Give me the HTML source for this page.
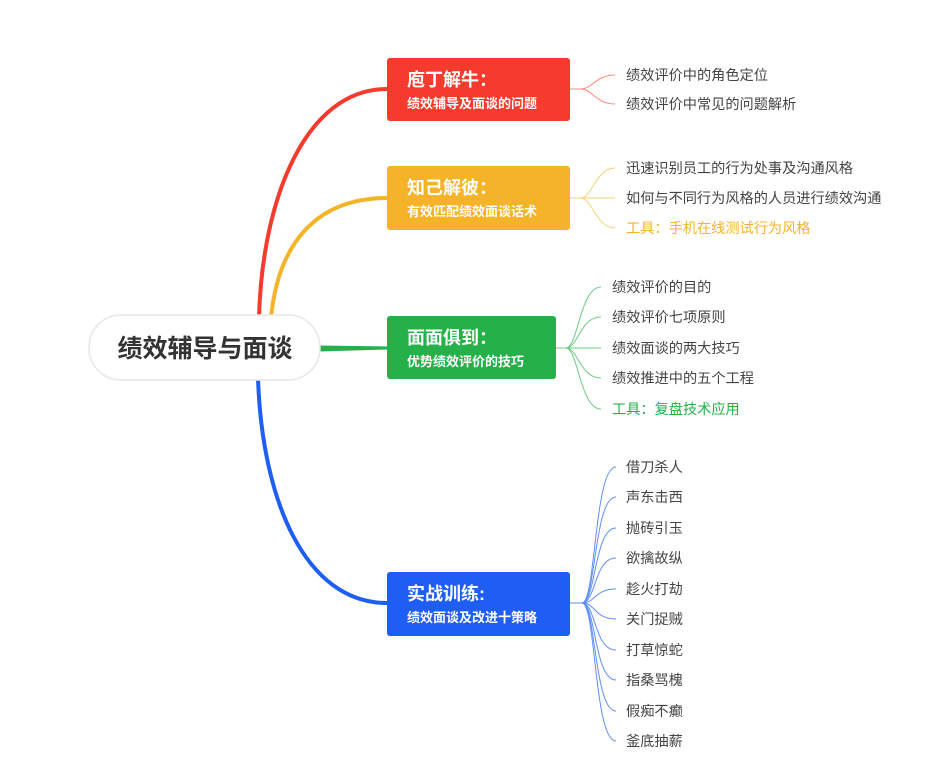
<!DOCTYPE html>
<html><head><meta charset="utf-8"><style>
html,body{margin:0;padding:0;background:#fff;}
svg{display:block;}
text{font-family:"Liberation Sans","Noto Sans CJK SC",sans-serif;}
.c{font-size:14.2px;fill:#444;}
.t{font-size:18px;font-weight:bold;fill:#fff;}
.s{font-size:13px;font-weight:bold;fill:#fff;}
</style></head><body>
<svg width="929" height="774" viewBox="0 0 929 774" xmlns="http://www.w3.org/2000/svg">
<g fill="none" stroke-linecap="round">
<path d="M259 318 C262 200 305 89 387 89" stroke="#f53b2d" stroke-width="4"/>
<path d="M271 318 C278 245 315 198 387 198" stroke="#f5b32a" stroke-width="4"/>
<path d="M320 346 L387 347 L387 349 L320 351 Z" fill="#25b04a" stroke="#25b04a" stroke-width="1"/>
<path d="M258 378 C262 500 305 603 387 603" stroke="#1f5ef5" stroke-width="4"/>
</g>
<rect x="89" y="315" width="231" height="65" rx="32" fill="#fff" stroke="#e6e6e6" stroke-width="1.5"/>
<text x="205" y="357" text-anchor="middle" font-size="25" font-weight="bold" fill="#333">绩效辅导与面谈</text>

<rect x="387" y="58" width="183" height="63" rx="3" fill="#f53b2d"/>
<text class="t" x="407" y="86">庖丁解牛：</text>
<text class="s" x="407" y="108">绩效辅导及面谈的问题</text>

<rect x="387" y="166" width="183" height="64" rx="3" fill="#f5b32a"/>
<text class="t" x="407" y="194">知己解彼：</text>
<text class="s" x="407" y="216">有效匹配绩效面谈话术</text>

<rect x="387" y="316" width="169" height="63" rx="3" fill="#25b04a"/>
<text class="t" x="407" y="344">面面俱到：</text>
<text class="s" x="407" y="366">优势绩效评价的技巧</text>

<rect x="387" y="572" width="183" height="64" rx="3" fill="#1f5ef5"/>
<text class="t" x="407" y="600">实战训练:</text>
<text class="s" x="407" y="622">绩效面谈及改进十策略</text>

<g fill="none" stroke-width="1">
<g stroke="#f58a80">
<path d="M570 89 L581 89 C592 89 596 75 615 75"/>
<path d="M581 89 C592 89 596 104 615 104"/>
</g>
<g stroke="#f8d07a">
<path d="M570 198 L581 198 C592 198 596 168 615 168"/>
<path d="M581 198 L615 198"/>
<path d="M581 198 C592 198 596 228 615 228"/>
</g>
<g stroke="#6fcc86">
<path d="M556 348 L566 348 C578 348 580 287 601 287"/>
<path d="M566 348 C578 348 580 317 601 317"/>
<path d="M566 348 L601 348"/>
<path d="M566 348 C578 348 580 378 601 378"/>
<path d="M566 348 C578 348 580 409 601 409"/>
</g>
<g stroke="#5f8ff7">
<path d="M570 603 L582 603"/>
<path d="M582 603 C596 603 594 467 616 467"/>
<path d="M582 603 C596 603 594 497 616 497"/>
<path d="M582 603 C596 603 594 528 616 528"/>
<path d="M582 603 C596 603 594 558 616 558"/>
<path d="M582 603 C596 603 594 589 616 589"/>
<path d="M582 603 C596 603 594 619 616 619"/>
<path d="M582 603 C596 603 594 650 616 650"/>
<path d="M582 603 C596 603 594 680 616 680"/>
<path d="M582 603 C596 603 594 711 616 711"/>
<path d="M582 603 C596 603 594 741 616 741"/>
</g>
</g>

<text class="c" x="626" y="80">绩效评价中的角色定位</text>
<text class="c" x="626" y="109">绩效评价中常见的问题解析</text>
<text class="c" x="626" y="173">迅速识别员工的行为处事及沟通风格</text>
<text class="c" x="626" y="203">如何与不同行为风格的人员进行绩效沟通</text>
<text class="c" x="626" y="233" style="fill:#f5b32a">工具：手机在线测试行为风格</text>
<text class="c" x="612" y="292">绩效评价的目的</text>
<text class="c" x="612" y="322">绩效评价七项原则</text>
<text class="c" x="612" y="353">绩效面谈的两大技巧</text>
<text class="c" x="612" y="383">绩效推进中的五个工程</text>
<text class="c" x="612" y="414" style="fill:#25b04a">工具：复盘技术应用</text>
<text class="c" x="626" y="472">借刀杀人</text>
<text class="c" x="626" y="502">声东击西</text>
<text class="c" x="626" y="533">抛砖引玉</text>
<text class="c" x="626" y="563">欲擒故纵</text>
<text class="c" x="626" y="594">趁火打劫</text>
<text class="c" x="626" y="624">关门捉贼</text>
<text class="c" x="626" y="655">打草惊蛇</text>
<text class="c" x="626" y="685">指桑骂槐</text>
<text class="c" x="626" y="716">假痴不癫</text>
<text class="c" x="626" y="746">釜底抽薪</text>
</svg>
</body></html>
